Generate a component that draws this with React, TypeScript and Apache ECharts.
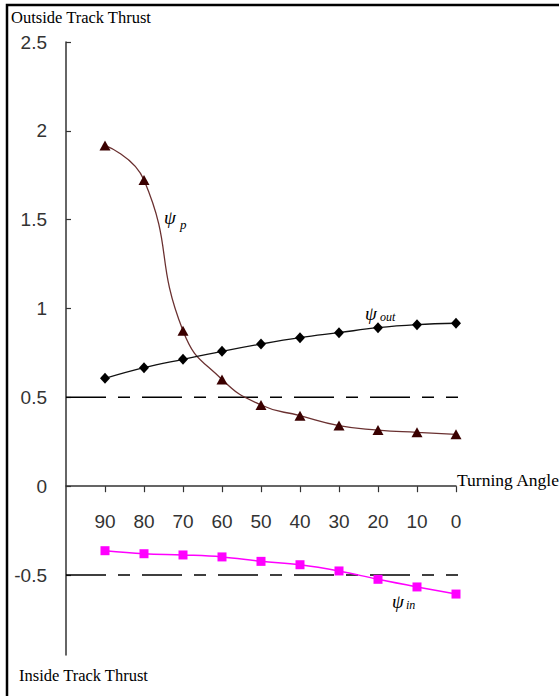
import React, { useEffect, useRef } from "react";
import * as echarts from "echarts";

// Turning angle (deg) for every measured point
const angles = [90, 80, 70, 60, 50, 40, 30, 20, 10, 0];
// Thrust coefficients
const psiP = [1.918, 1.723, 0.875, 0.601, 0.457, 0.397, 0.341, 0.316, 0.303, 0.292];
const psiOut = [0.607, 0.667, 0.714, 0.759, 0.8, 0.836, 0.864, 0.892, 0.909, 0.917];
const psiIn = [-0.363, -0.38, -0.387, -0.398, -0.423, -0.442, -0.477, -0.524, -0.567, -0.607];
// Reference levels drawn as dashed lines
const refLevels = [0.5, -0.5];
const refSpan = [100, -4.4];
// Axis ticks
const xTicks = [90, 80, 70, 60, 50, 40, 30, 20, 10, 0];
const yTicks = [-0.5, 0, 0.5, 1, 1.5, 2, 2.5];
const yMin = -0.95;
const yMax = 2.5;

const pairs = (ys: number[]) => angles.map((a, i) => [a, ys[i]]);

const labelFont = '"Liberation Sans", Arial, sans-serif';
const serif = '"Liberation Serif", "Times New Roman", serif';

const GRID_TOP = 42;
const GRID_BOTTOM = 41;
const HEIGHT = 696;

export default function App() {
  const ref = useRef<HTMLDivElement>(null);

  useEffect(() => {
    document.body.style.margin = "0";
    const chart = echarts.init(ref.current!, null, { renderer: "svg" });

    // lift the x axis from the grid bottom up to the zero line
    const plotH = HEIGHT - GRID_TOP - GRID_BOTTOM;
    const zeroLift = ((0 - yMin) / (yMax - yMin)) * plotH;

    const dashed = refLevels.map((lv) => ({
      type: "line",
      data: refSpan.map((x) => [x, lv]),
      clip: false,
      symbol: "none",
      silent: true,
      lineStyle: { color: "#000", width: 1.5, type: [40, 12, 12, 12] },
      z: 1,
    }));

    chart.setOption({
      animation: false,
      backgroundColor: "#fff",
      grid: { left: 66, right: 103, top: GRID_TOP, bottom: GRID_BOTTOM },
      xAxis: {
        type: "value",
        min: 0,
        max: 100,
        inverse: true,
        offset: -zeroLift,
        axisLine: { show: true, onZero: false, lineStyle: { color: "#333", width: 1.5 } },
        axisTick: { show: true, customValues: xTicks, length: 6, lineStyle: { color: "#333", width: 1.2 } },
        axisLabel: {
          customValues: xTicks,
          margin: 26,
          color: "#333",
          fontSize: 19,
          fontFamily: labelFont,
        },
        splitLine: { show: false },
      },
      yAxis: {
        type: "value",
        min: yMin,
        max: yMax,
        axisLine: { show: true, onZero: false, lineStyle: { color: "#333", width: 1.5 } },
        axisTick: { show: true, inside: true, customValues: yTicks, length: 5, lineStyle: { color: "#333", width: 1.2 } },
        axisLabel: {
          customValues: yTicks,
          margin: 19,
          color: "#333",
          fontSize: 19,
          fontFamily: labelFont,
        },
        splitLine: { show: false },
      },
      series: [
        ...dashed,
        {
          name: "psiP",
          type: "line",
          data: pairs(psiP),
          smooth: 0.5,
          symbol: "triangle",
          symbolSize: [11, 10],
          itemStyle: { color: "#3a0000" },
          lineStyle: { color: "#6a3030", width: 1.3 },
          z: 3,
        },
        {
          name: "psiOut",
          type: "line",
          data: pairs(psiOut),
          smooth: 0.4,
          symbol: "diamond",
          symbolSize: [10, 11],
          itemStyle: { color: "#000" },
          lineStyle: { color: "#111", width: 1.3 },
          z: 3,
        },
        {
          name: "psiIn",
          type: "line",
          data: pairs(psiIn),
          smooth: 0.4,
          symbol: "rect",
          symbolSize: 9,
          itemStyle: { color: "#ff00ff" },
          lineStyle: { color: "#ff00ff", width: 1.5 },
          z: 3,
        },
      ],
      graphic: [
        // frame
        {
          type: "polyline",
          shape: { points: [[7, 700], [7, 5], [562, 5]] },
          style: { stroke: "#000", lineWidth: 2.5, fill: null },
        },
        {
          type: "text",
          x: 11,
          y: 9,
          style: { text: "Outside Track Thrust", fontSize: 16.5, fontFamily: serif, fill: "#000" },
        },
        {
          type: "text",
          x: 19,
          y: 667,
          style: { text: "Inside Track Thrust", fontSize: 16.5, fontFamily: serif, fill: "#000" },
        },
        {
          type: "text",
          x: 457,
          y: 471,
          style: { text: "Turning Angle", fontSize: 17.5, fontFamily: serif, fill: "#000" },
        },
        // curve annotations
        { type: "text", x: 164, y: 208, style: { text: "ψ", fontSize: 19, fontStyle: "italic", fontFamily: serif, fill: "#000" } },
        { type: "text", x: 180, y: 218, style: { text: "p", fontSize: 13, fontStyle: "italic", fontFamily: serif, fill: "#000" } },
        { type: "text", x: 365, y: 304, style: { text: "ψ", fontSize: 19, fontStyle: "italic", fontFamily: serif, fill: "#000" } },
        { type: "text", x: 380, y: 311, style: { text: "out", fontSize: 12, fontStyle: "italic", fontFamily: serif, fill: "#000" } },
        { type: "text", x: 392, y: 592, style: { text: "ψ", fontSize: 19, fontStyle: "italic", fontFamily: serif, fill: "#000" } },
        { type: "text", x: 406, y: 599, style: { text: "in", fontSize: 12, fontStyle: "italic", fontFamily: serif, fill: "#000" } },
      ],
    });

    return () => chart.dispose();
  }, []);

  return <div ref={ref} style={{ width: 559, height: 696 }} />;
}
